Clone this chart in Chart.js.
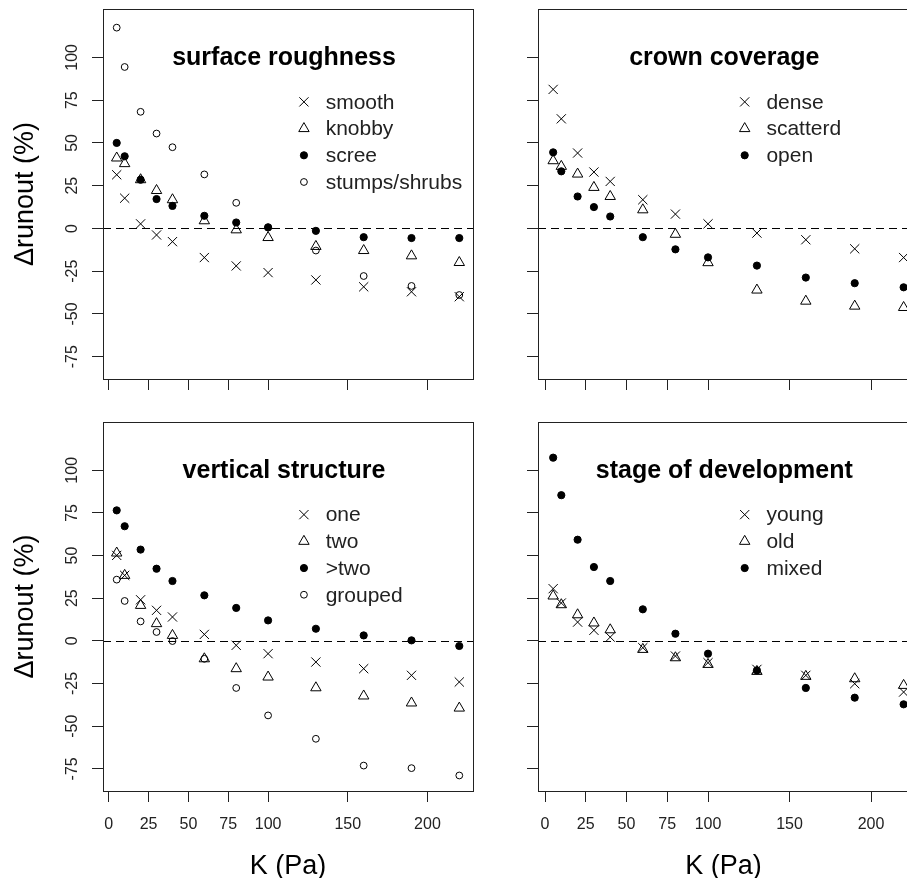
<!DOCTYPE html>
<html>
<head>
<meta charset="utf-8">
<script src="https://cdn.jsdelivr.net/npm/chart.js@4.4.1/dist/chart.umd.min.js"></script>
<style>
  html, body { margin: 0; padding: 0; background: #fff; width: 907px; height: 878px; overflow: hidden; position: relative; }
  canvas { position: absolute; }
</style>
</head>
<body>
<canvas id="roughness" width="480" height="410" style="left:0;top:0"></canvas>
<canvas id="crown" width="430" height="410" style="left:480px;top:0"></canvas>
<canvas id="vertical" width="480" height="468" style="left:0;top:410px"></canvas>
<canvas id="stage" width="430" height="468" style="left:480px;top:410px"></canvas>
<script>
// K (Pa) values shared by every series
const kValues = [5, 10, 20, 30, 40, 60, 80, 100, 130, 160, 190, 220];
const xTicks = [0, 25, 50, 75, 100, 150, 200];
const yTicks = [-75, -50, -25, 0, 25, 50, 75, 100];

// surface roughness
const smooth   = [31.4, 17.7, 2.7, -3.8, -7.7, -17.0, -21.9, -25.8, -30.1, -34.1, -37.0, -39.9];
const knobby   = [41.2, 37.9, 28.5, 22.2, 16.8, 4.5, -0.8, -5.3, -10.5, -12.9, -16.0, -19.9];
const scree    = [50.0, 42.2, 28.5, 17.2, 13.2, 7.4, 3.5, 0.7, -1.4, -5.1, -5.6, -5.6];
const stumps   = [117.4, 94.4, 68.2, 55.5, 47.5, 31.6, 15.0, 0.5, -12.9, -27.8, -33.6, -38.9];

// crown coverage
const dense    = [81.3, 64.1, 44.1, 33.0, 27.5, 16.8, 8.4, 2.7, -2.7, -6.6, -11.9, -17.0];
const scatterd = [39.6, 36.3, 31.8, 24.0, 18.7, 10.9, -3.4, -20.0, -36.0, -42.5, -45.4, -46.2];
const open     = [44.5, 33.4, 18.7, 12.5, 7.0, -5.1, -12.2, -16.9, -21.7, -28.7, -32.0, -34.4];

// vertical structure
const one      = [50.1, 38.4, 24.1, 17.9, 14.0, 3.8, -2.6, -7.5, -12.4, -16.3, -20.2, -24.1];
const two      = [51.5, 38.4, 20.8, 10.1, 3.2, -10.5, -16.3, -21.2, -27.5, -32.3, -36.4, -39.4];
const moreTwo  = [76.5, 67.2, 53.5, 42.3, 35.1, 26.7, 19.3, 12.0, 7.1, 3.2, 0.3, -3.0];
const grouped  = [35.9, 23.4, 11.4, 5.2, -0.1, -10.5, -27.6, -43.7, -57.4, -73.1, -74.6, -78.9];

// stage of development
const young    = [30.6, 22.2, 11.0, 6.2, 2.2, -4.0, -8.9, -12.8, -16.7, -20.2, -25.1, -30.0];
const old      = [26.3, 21.2, 15.3, 10.5, 6.5, -5.0, -9.9, -13.8, -17.9, -20.8, -22.2, -26.1];
const mixed    = [107.4, 85.4, 59.3, 43.3, 35.1, 18.5, 4.2, -7.5, -17.3, -27.6, -33.3, -37.2];

Chart.defaults.font.family = '"Liberation Sans", Arial, sans-serif';
Chart.defaults.color = '#222';

const markers = [
  { pointStyle: 'crossRot', pointRadius: 6.5, backgroundColor: 'rgba(0,0,0,0)' },
  { pointStyle: 'triangle', pointRadius: 6, backgroundColor: 'rgba(0,0,0,0)' },
  { pointStyle: 'circle', pointRadius: 3.6, backgroundColor: '#000' },
  { pointStyle: 'circle', pointRadius: 3.4, backgroundColor: 'rgba(0,0,0,0)' }
];

function series(label, values, i) {
  return Object.assign({
    label: label,
    data: kValues.map((k, j) => ({ x: k, y: values[j] })),
    borderColor: '#000',
    borderWidth: 1,
    pointHoverRadius: 6
  }, markers[i]);
}

const panelDeco = {
  id: 'panelDeco',
  beforeDatasetsDraw(chart) {
    const { ctx, chartArea: a, scales: { y } } = chart;
    const y0 = Math.round(y.getPixelForValue(0)) + 0.5;
    ctx.save();
    ctx.strokeStyle = '#000';
    ctx.lineWidth = 1;
    ctx.setLineDash([8, 5]);
    ctx.beginPath();
    ctx.moveTo(a.left, y0);
    ctx.lineTo(a.right, y0);
    ctx.stroke();
    ctx.restore();
  },
  afterDatasetsDraw(chart, args, opts) {
    const { ctx, chartArea: a, scales: { x, y } } = chart;
    ctx.save();
    // box around the plot region
    ctx.strokeStyle = '#222';
    ctx.lineWidth = 1;
    ctx.strokeRect(Math.round(a.left) + 0.5, Math.round(a.top) + 0.5,
      Math.round(a.right - a.left), Math.round(a.bottom - a.top));

    // panel title
    ctx.fillStyle = '#000';
    ctx.font = 'bold 25px "Liberation Sans", Arial, sans-serif';
    ctx.textAlign = 'center';
    ctx.textBaseline = 'alphabetic';
    ctx.fillText(opts.title, x.getPixelForValue(110), y.getPixelForValue(100) + 8);

    // legend
    const sx = x.getPixelForValue(122.5);
    let sy = y.getPixelForValue(74);
    ctx.font = '21px "Liberation Sans", Arial, sans-serif';
    ctx.textAlign = 'left';
    ctx.textBaseline = 'middle';
    chart.data.datasets.forEach(ds => {
      ctx.strokeStyle = '#000';
      ctx.fillStyle = ds.backgroundColor;
      ctx.lineWidth = 1;
      Chart.helpers.drawPoint(ctx, { pointStyle: ds.pointStyle, radius: ds.pointRadius, borderWidth: 1, rotation: 0 }, sx, sy);
      ctx.fillStyle = '#222';
      ctx.fillText(ds.label, sx + 21.7, sy + 1);
      sy += 26.7;
    });
    ctx.restore();
  }
};

function makePanel(id, title, labels, values, cfg) {
  new Chart(document.getElementById(id), {
    type: 'scatter',
    data: { datasets: labels.map((l, i) => series(l, values[i], i)) },
    plugins: [panelDeco],
    options: {
      responsive: false,
      animation: false,
      devicePixelRatio: 1,
      layout: { autoPadding: false, padding: { top: cfg.top, right: cfg.right, left: 0, bottom: 0 } },
      plugins: {
        legend: { display: false },
        tooltip: { enabled: false },
        panelDeco: { title: title }
      },
      scales: {
        x: {
          type: 'linear',
          min: cfg.xmin,
          max: cfg.xmax,
          afterBuildTicks: s => { s.ticks = xTicks.map(v => ({ value: v })); },
          afterFit: s => { s.height = cfg.xHeight; s.paddingLeft = 0; s.paddingRight = 0; },
          border: { display: false },
          grid: { drawOnChartArea: false, drawTicks: true, tickLength: 11, color: '#222', lineWidth: 1 },
          ticks: {
            display: cfg.xLabels,
            padding: 13,
            maxRotation: 0,
            font: { size: 16 },
            color: '#222',
            callback: v => String(v)
          },
          title: {
            display: cfg.xLabels,
            text: 'K (Pa)',
            font: { size: 27, lineHeight: 1 },
            color: '#000',
            padding: { top: 0, bottom: -2 }
          }
        },
        y: {
          type: 'linear',
          min: -88,
          max: 128.3,
          afterBuildTicks: s => { s.ticks = yTicks.map(v => ({ value: v })); },
          afterFit: s => { s.width = cfg.yWidth; s.paddingTop = 0; s.paddingBottom = 0; },
          border: { display: false },
          grid: { drawOnChartArea: false, drawTicks: true, tickLength: 11, color: '#222', lineWidth: 1 },
          ticks: {
            display: cfg.yLabels,
            minRotation: 90,
            maxRotation: 90,
            crossAlign: 'center',
            padding: 6,
            font: { size: 16 },
            color: '#222',
            callback: v => String(v)
          },
          title: {
            display: cfg.yLabels,
            text: 'Δrunout (%)',
            font: { size: 27, lineHeight: 1 },
            color: '#000',
            padding: { top: 12, bottom: 0 }
          }
        }
      }
    }
  });
}

const leftCfg = { xmin: -3.6, xmax: 228.6, yWidth: 103, right: 7, yLabels: true };
const rightCfg = { xmin: -4.3, xmax: 223.3, yWidth: 58, right: 1, yLabels: false };

makePanel('roughness', 'surface roughness',
  ['smooth', 'knobby', 'scree', 'stumps/shrubs'], [smooth, knobby, scree, stumps],
  Object.assign({}, leftCfg, { top: 9, xHeight: 31, xLabels: false }));
makePanel('crown', 'crown coverage',
  ['dense', 'scatterd', 'open'], [dense, scatterd, open],
  Object.assign({}, rightCfg, { top: 9, xHeight: 31, xLabels: false }));
makePanel('vertical', 'vertical structure',
  ['one', 'two', '>two', 'grouped'], [one, two, moreTwo, grouped],
  Object.assign({}, leftCfg, { top: 12, xHeight: 87, xLabels: true }));
makePanel('stage', 'stage of development',
  ['young', 'old', 'mixed'], [young, old, mixed],
  Object.assign({}, rightCfg, { top: 12, xHeight: 87, xLabels: true }));
</script>
</body>
</html>
